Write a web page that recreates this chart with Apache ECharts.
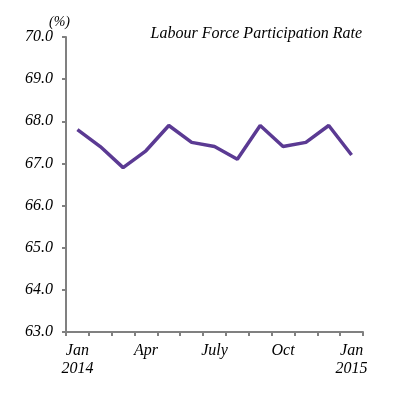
<!DOCTYPE html>
<html>
<head>
<meta charset="utf-8">
<script src="https://cdn.jsdelivr.net/npm/echarts@6/dist/echarts.min.js"></script>
<style>
html,body{margin:0;padding:0;background:#fff;}
#chart{width:402px;height:398px;}
</style>
</head>
<body>
<div id="chart"></div>
<script>
var months = ['Jan\n2014','Feb','Mar','Apr','May','Jun','July','Aug','Sep','Oct','Nov','Dec','Jan\n2015'];
var rate = [67.8, 67.4, 66.9, 67.3, 67.9, 67.5, 67.4, 67.1, 67.9, 67.4, 67.5, 67.9, 67.2];
var yMin = 63, yMax = 70, yStep = 1;

var font = 'Liberation Serif';
var axisGrey = '#808080';

var chart = echarts.init(document.getElementById('chart'));
var option = {
	backgroundColor: '#fff',
	animation: false,
	title: {
		text: 'Labour Force Participation Rate',
		right: 35,
		top: 21,
		textStyle: {
			fontFamily: font,
			fontStyle: 'italic',
			fontWeight: 'normal',
			fontSize: 16,
			color: '#000'
		}
	},
	grid: {
		left: 66,
		right: 39,
		top: 37,
		bottom: 66
	},
	xAxis: {
		type: 'category',
		data: months,
		boundaryGap: true,
		axisLine: { lineStyle: { color: axisGrey, width: 2 } },
		axisTick: { show: true, length: 4, interval: 0, lineStyle: { color: axisGrey, width: 2 } },
		axisLabel: {
			interval: 2,
			margin: 10,
			fontFamily: font,
			fontStyle: 'italic',
			fontSize: 16,
			lineHeight: 18,
			color: '#000'
		},
		splitLine: { show: false }
	},
	yAxis: {
		type: 'value',
		min: yMin,
		max: yMax,
		interval: yStep,
		name: '(%)',
		nameGap: 6,
		nameTextStyle: {
			fontFamily: font,
			fontStyle: 'italic',
			fontSize: 14,
			color: '#000',
			align: 'right',
			padding: [0, -4, 0, 0]
		},
		axisLine: { show: true, lineStyle: { color: axisGrey, width: 2 } },
		axisTick: { show: true, length: 4, lineStyle: { color: axisGrey, width: 2 } },
		axisLabel: {
			margin: 13,
			fontFamily: font,
			fontStyle: 'italic',
			fontSize: 16,
			color: '#000',
			formatter: function(v){ return v.toFixed(1); }
		},
		splitLine: { show: false }
	},
	series: [{
		type: 'line',
		data: rate,
		symbol: 'none',
		lineStyle: { color: '#5b3a93', width: 3.5 }
	}]
};
chart.setOption(option);
</script>
</body>
</html>
